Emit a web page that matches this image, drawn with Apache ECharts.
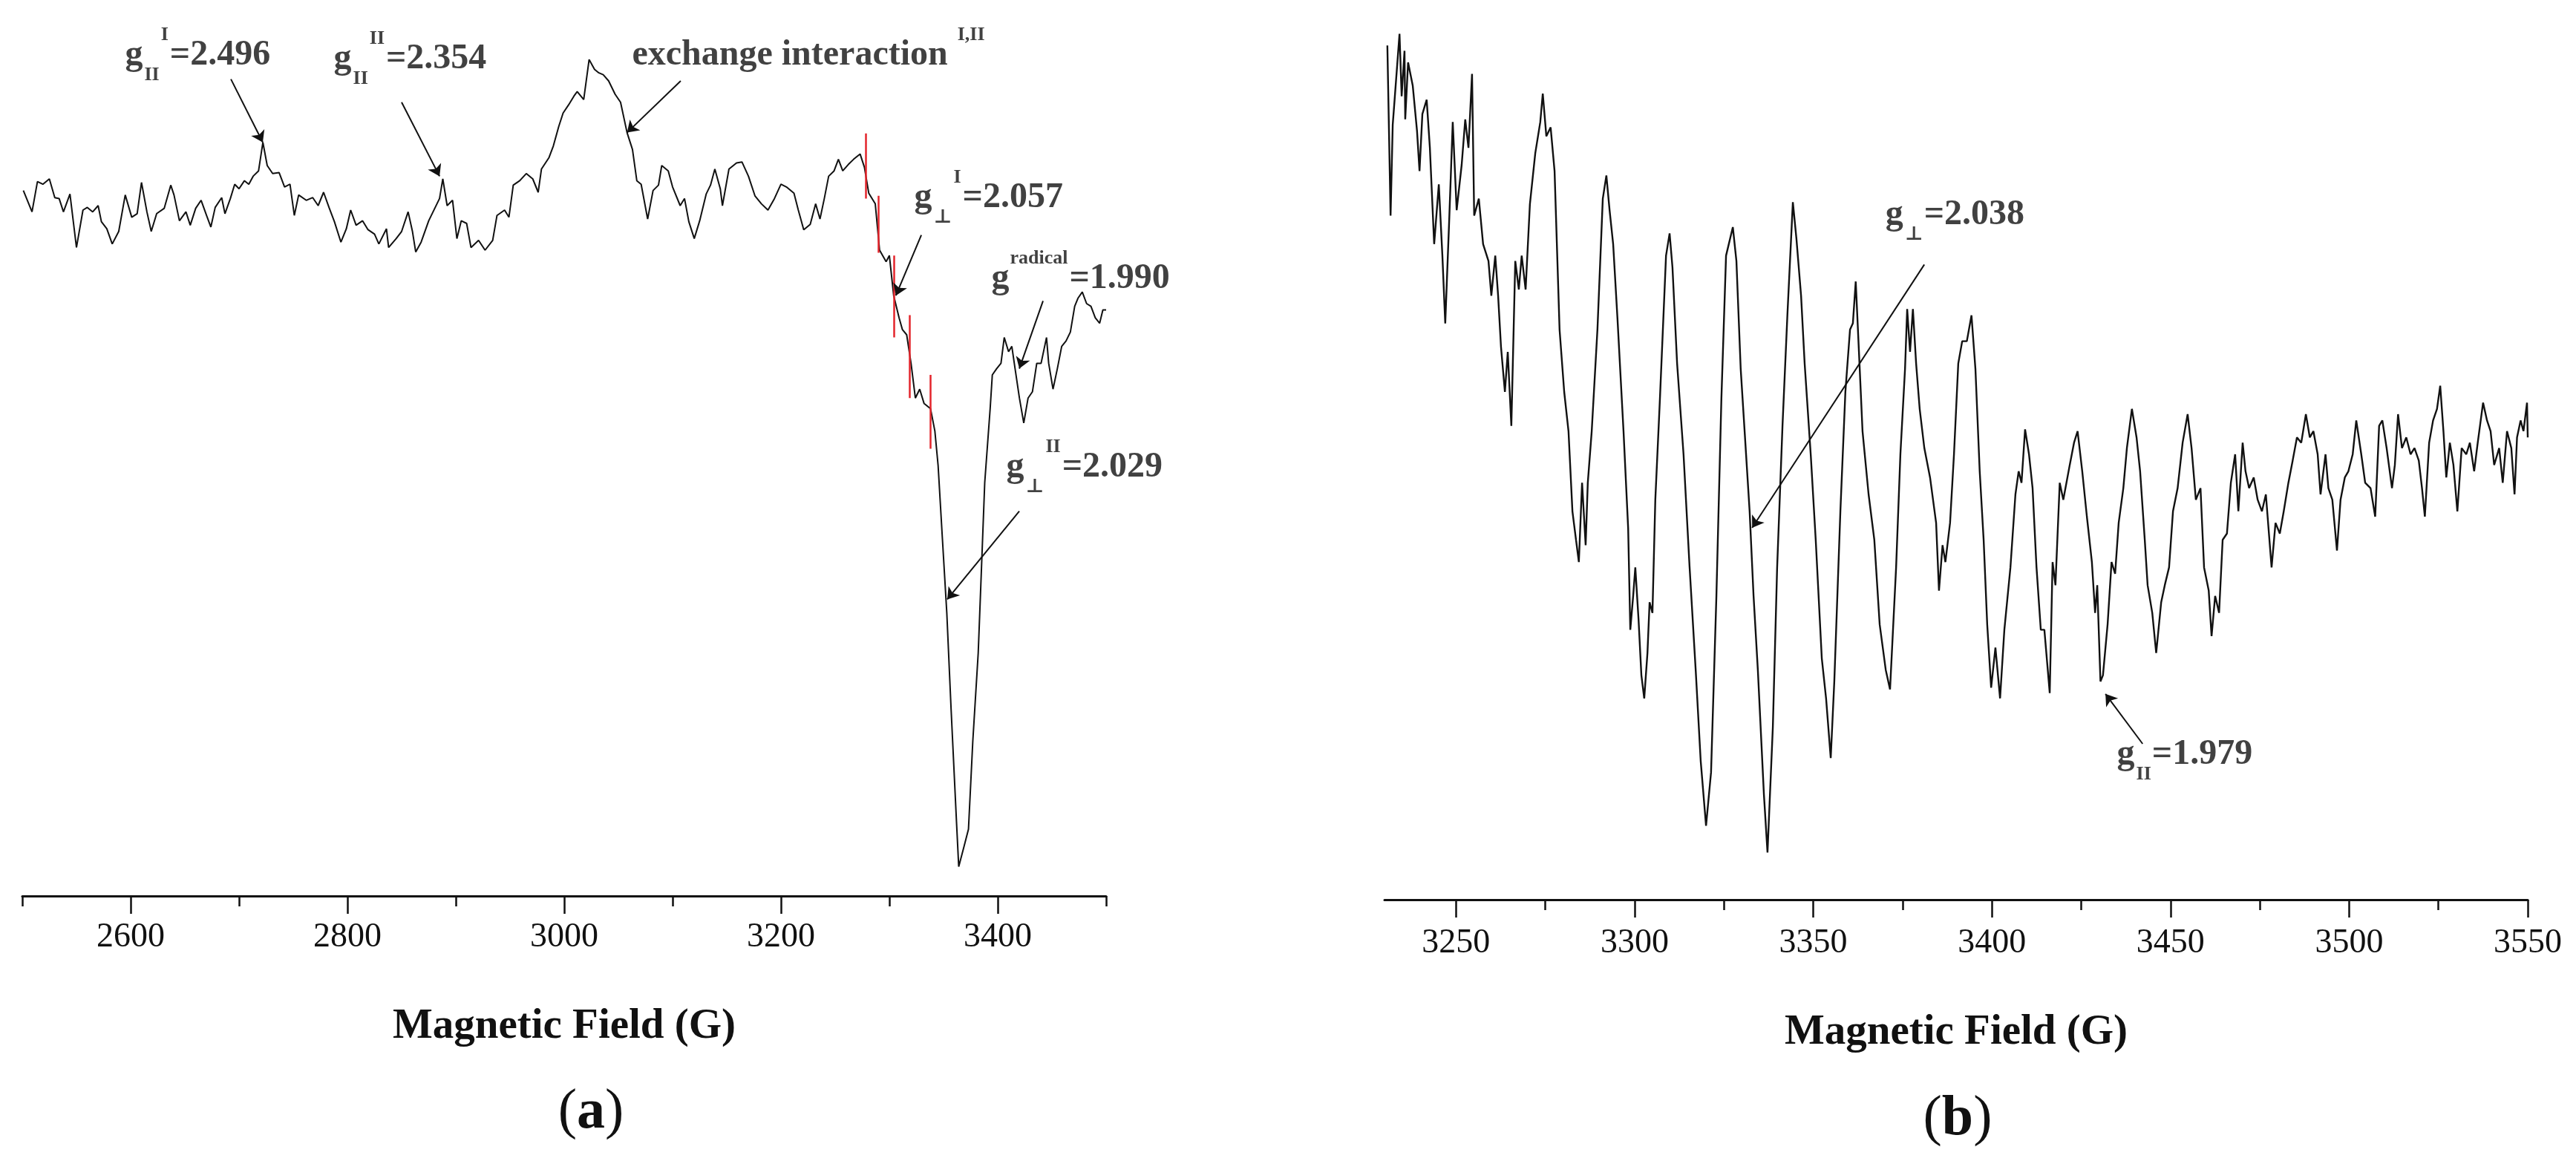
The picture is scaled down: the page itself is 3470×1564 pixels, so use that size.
<!DOCTYPE html>
<html>
<head>
<meta charset="utf-8">
<style>
  html, body { margin: 0; padding: 0; background: #fff; }
  #chart { width: 3470px; height: 1564px; }
</style>
<script src="https://cdn.jsdelivr.net/npm/echarts@6/dist/echarts.min.js"></script>
</head>
<body>
<div id="chart"></div>
<script>
// EPR spectra, intensity in arbitrary units (0..100 over the plot height)
const spectrumA = [
  [2501,79.2],[2509,76.8],[2514,80.2],[2519,79.9],[2525,80.5],[2530,78.4],[2534,78.3],[2538,76.8],[2544,78.8],[2550,72.8],
  [2556,77.0],[2560,77.3],[2565,76.8],[2570,77.5],[2573,75.7],[2578,74.9],[2583,73.2],[2589,74.6],[2595,78.7],[2601,76.2],
  [2606,76.6],[2610,80.1],[2615,76.8],[2619,74.6],[2624,76.6],[2631,77.2],[2637,79.8],[2640,78.7],[2645,75.8],[2651,76.8],
  [2655,75.3],[2660,77.2],[2665,78.1],[2670,76.4],[2674,75.1],[2678,77.3],[2684,78.4],[2687,76.6],[2692,78.3],[2696,79.9],
  [2700,79.4],[2705,80.3],[2709,79.9],[2713,80.8],[2718,81.4],[2722,84.6],[2726,82.0],[2731,81.1],[2737,81.2],[2742,79.6],
  [2747,79.9],[2751,76.4],[2755,78.7],[2762,78.1],[2768,78.4],[2773,77.5],[2778,79.0],[2783,77.3],[2788,75.7],[2794,73.4],
  [2799,74.9],[2803,77.0],[2808,75.3],[2814,75.8],[2819,74.8],[2825,74.3],[2829,73.2],[2836,74.9],[2838,72.8],[2845,73.8],
  [2850,74.6],[2856,76.8],[2860,74.6],[2863,72.3],[2868,73.4],[2875,75.8],[2881,77.3],[2885,78.3],[2888,80.5],[2892,77.5],
  [2897,78.1],[2901,73.8],[2905,75.8],[2910,75.5],[2914,72.8],[2921,73.6],[2927,72.5],[2934,73.6],[2938,76.4],[2945,77.0],
  [2949,76.2],[2953,79.8],[2959,80.3],[2965,81.1],[2971,80.5],[2976,79.0],[2979,81.6],[2986,82.9],[2990,84.2],[2995,86.4],
  [2999,87.9],[3004,88.8],[3009,89.8],[3012,90.3],[3018,89.4],[3023,93.9],[3028,92.8],[3032,92.4],[3036,92.2],[3041,91.5],
  [3047,90.0],[3052,89.1],[3058,85.7],[3063,83.8],[3067,80.3],[3071,79.9],[3077,76.0],[3082,79.2],[3087,79.8],[3090,82.0],
  [3096,81.4],[3100,79.6],[3107,77.5],[3111,78.3],[3115,75.7],[3120,73.8],[3125,75.8],[3131,78.8],[3135,79.8],[3139,81.6],
  [3144,79.4],[3146,77.5],[3152,81.6],[3159,82.3],[3164,82.4],[3170,80.8],[3176,78.6],[3182,77.7],[3188,77.0],[3194,78.3],
  [3200,79.9],[3205,79.6],[3212,78.9],[3216,77.0],[3221,74.8],[3227,75.4],[3232,77.7],[3236,76.0],[3240,78.3],[3244,80.8],
  [3249,81.4],[3253,82.7],[3257,81.4],[3262,82.1],[3267,82.7],[3273,83.3],[3277,81.8],[3281,78.9],[3287,77.7],[3291,72.5],
  [3297,71.2],[3300,71.9],[3304,67.4],[3309,64.9],[3312,63.6],[3316,63.0],[3320,59.8],[3324,55.9],[3328,56.9],[3332,55.3],
  [3338,54.7],[3342,52.2],[3345,48.3],[3349,40.0],[3353,31.8],[3357,20.9],[3362,8.2],[3364,3.3],[3369,5.6],[3373,7.5],
  [3377,17.4],[3382,27.3],[3385,36.8],[3388,46.4],[3393,54.7],[3395,58.5],[3399,59.2],[3403,59.8],[3406,62.7],[3410,61.1],
  [3413,61.7],[3416,59.2],[3420,55.9],[3424,53.1],[3428,55.9],[3432,56.6],[3436,59.8],[3440,59.8],[3445,62.7],[3447,59.8],
  [3451,56.9],[3455,59.2],[3459,61.7],[3463,62.3],[3467,63.3],[3471,66.2],[3474,67.1],[3478,67.8],[3482,66.5],[3486,66.2],
  [3490,64.9],[3494,64.3],[3497,65.8],[3500,65.8]
];

const spectrumB = [
  [3230.8,95.9],[3231.7,76.8],[3232.3,87.0],[3232.9,90.2],[3234.2,97.2],[3234.8,90.2],[3235.6,95.3],[3235.8,87.6],[3236.6,94.0],[3237.9,91.4],
  [3239.1,86.3],[3239.8,81.8],[3240.6,88.2],[3241.8,89.8],[3242.7,84.4],[3243.9,73.6],[3245.2,80.3],[3246.2,72.3],[3247.0,64.7],[3248.1,76.2],
  [3249.1,87.3],[3250.2,77.4],[3251.6,82.5],[3252.6,87.6],[3253.5,84.4],[3254.5,92.7],[3255.1,76.8],[3256.4,78.7],[3257.6,73.6],[3259.1,71.7],
  [3259.9,67.8],[3261.0,72.3],[3261.8,67.8],[3262.6,62.1],[3263.7,57.0],[3264.5,61.5],[3265.5,53.2],[3266.6,71.7],[3267.6,68.5],[3268.4,72.3],
  [3269.5,68.5],[3270.7,78.1],[3272.2,83.8],[3273.6,87.3],[3274.3,90.5],[3275.3,85.7],[3276.5,86.7],[3277.6,81.8],[3279.0,64.0],[3280.3,57.0],
  [3281.5,52.6],[3282.6,43.6],[3283.6,40.4],[3284.4,37.9],[3285.3,46.8],[3286.3,39.8],[3286.9,46.8],[3288.0,52.6],[3289.6,64.0],[3291.1,78.7],
  [3292.1,81.3],[3293.0,77.4],[3294.0,73.6],[3295.2,65.3],[3296.9,52.6],[3298.2,41.7],[3298.8,30.3],[3299.6,34.1],[3300.2,37.3],[3301.1,31.5],
  [3301.9,25.2],[3302.7,22.6],[3303.6,27.7],[3304.2,33.4],[3305.0,32.2],[3305.8,44.9],[3307.1,56.3],[3308.8,72.3],[3309.8,74.8],[3310.6,71.0],
  [3311.9,60.2],[3313.7,50.0],[3315.4,37.3],[3317.1,25.8],[3318.5,15.6],[3320.0,8.3],[3321.4,14.3],[3322.9,34.1],[3324.3,56.3],[3325.6,72.3],
  [3327.5,75.5],[3328.5,71.7],[3329.7,59.6],[3331.0,51.3],[3332.2,43.6],[3333.3,34.1],[3334.5,25.8],[3336.2,11.8],[3337.2,5.3],[3338.7,19.4],
  [3339.9,37.3],[3341.4,53.2],[3342.8,65.9],[3344.3,78.3],[3345.3,74.2],[3346.6,67.8],[3347.6,60.2],[3349.3,50.0],[3350.7,40.4],[3352.4,27.1],
  [3353.6,22.6],[3354.9,15.9],[3355.9,24.5],[3357.6,43.6],[3359.0,57.0],[3360.3,64.0],[3361.1,64.7],[3361.9,69.4],[3362.8,61.5],[3363.8,52.6],
  [3365.5,45.5],[3367.1,40.4],[3368.6,30.9],[3370.3,25.8],[3371.5,23.6],[3373.2,37.3],[3374.4,50.0],[3375.7,59.6],[3376.3,66.3],[3377.1,61.5],
  [3377.9,66.3],[3378.8,60.2],[3379.8,55.1],[3381.1,50.7],[3382.7,47.4],[3384.4,42.3],[3385.2,34.7],[3386.2,39.8],[3387.0,37.9],[3388.3,42.3],
  [3389.4,50.0],[3390.6,60.2],[3391.7,62.7],[3393.0,62.7],[3394.3,65.6],[3395.4,59.6],[3396.6,48.1],[3397.7,40.4],[3398.7,30.9],[3399.8,23.8],
  [3401.0,28.3],[3402.3,22.6],[3403.5,30.3],[3405.2,37.3],[3406.6,45.5],[3407.5,48.1],[3408.3,46.8],[3409.3,52.8],[3410.4,50.0],[3411.4,46.2],
  [3412.5,37.3],[3413.7,30.3],[3414.7,30.3],[3416.2,23.2],[3417.0,37.9],[3417.8,35.3],[3419.0,46.8],[3420.0,44.9],[3421.8,48.8],[3423.0,51.3],
  [3424.0,52.6],[3425.3,48.1],[3426.6,43.0],[3428.0,37.9],[3428.9,32.2],[3429.5,35.3],[3430.4,24.5],[3431.1,25.2],[3432.4,30.9],[3433.5,37.9],
  [3434.5,36.6],[3435.5,42.3],[3436.8,46.2],[3437.8,50.7],[3439.2,55.1],[3440.5,51.9],[3441.5,48.1],[3442.8,40.4],[3443.6,35.3],[3444.9,32.2],
  [3446.0,27.7],[3447.4,33.4],[3448.4,35.3],[3449.6,37.3],[3450.7,43.6],[3452.0,46.2],[3453.4,51.3],[3454.8,54.5],[3455.9,50.7],[3457.1,44.9],
  [3458.4,46.2],[3459.4,37.3],[3460.7,34.7],[3461.5,29.6],[3462.5,34.1],[3463.6,32.2],[3464.6,40.4],[3465.8,41.1],[3466.9,46.8],[3468.1,50.0],
  [3469.0,43.6],[3470.2,51.3],[3471.0,48.1],[3472.0,46.2],[3473.3,47.4],[3474.4,44.9],[3475.6,43.6],[3476.7,45.5],[3478.3,37.3],[3479.4,42.3],
  [3480.6,41.1],[3481.7,43.6],[3483.0,46.8],[3484.2,49.3],[3485.4,51.9],[3486.6,51.3],[3487.9,54.5],[3489.0,51.9],[3490.0,52.6],[3491.2,50.0],
  [3492.0,45.5],[3493.4,50.0],[3494.2,46.2],[3495.3,44.9],[3496.6,39.2],[3497.6,44.9],[3498.8,47.4],[3499.8,48.1],[3501.0,50.0],[3502.0,53.8],
  [3503.4,50.0],[3504.5,46.8],[3506.0,46.2],[3507.3,43.0],[3508.4,53.2],[3509.3,53.8],[3510.5,50.7],[3512.0,46.2],[3512.8,48.8],[3513.7,54.5],
  [3514.8,50.7],[3516.0,51.9],[3517.2,50.0],[3518.3,50.7],[3519.5,49.3],[3520.4,46.2],[3521.2,43.0],[3522.4,51.3],[3523.5,53.8],[3524.6,55.1],
  [3525.5,57.7],[3526.4,52.6],[3527.2,47.4],[3528.2,51.3],[3529.2,48.8],[3530.3,43.6],[3531.5,50.7],[3532.8,50.0],[3533.8,51.3],[3535.0,48.1],
  [3536.0,51.3],[3537.5,55.8],[3538.6,53.8],[3539.6,52.6],[3540.6,48.8],[3542.0,50.7],[3543.0,46.8],[3544.2,52.6],[3545.4,50.7],[3546.3,45.5],
  [3547.0,51.9],[3548.0,53.8],[3548.8,52.6],[3549.8,55.8],[3550.0,51.9]
];

const majorTicksA = [2600, 2800, 3000, 3200, 3400];
const minorTicksA = [2500, 2700, 2900, 3100, 3300, 3500];
const majorTicksB = [3250, 3300, 3350, 3400, 3450, 3500, 3550];
const minorTicksB = [3275, 3325, 3375, 3425, 3475, 3525];

// red split marks on the shoulder of (a): [field, top, bottom]
const splitMarksA = [
  [3278, 85.6, 78.3],
  [3290, 78.6, 72.2],
  [3304, 71.9, 62.7],
  [3318.5, 65.2, 55.9],
  [3338, 58.5, 50.2]
];

// annotations: label text, label anchor [field, signal], arrow tail, arrow head
const notesA = [
  { text: '{g|g}{sub|II}{sup|I}{t|=2.496}', at: [2595.2, 94.35], from: [2692.5, 91.7], to: [2721.9, 84.6] },
  { text: '{g|g}{sub|II}{sup|II}{t|=2.354}', at: [2787.7, 93.9], from: [2850, 89.1], to: [2885, 80.8] },
  { text: '{t|exchange interaction }{sup|I,II}', at: [3063, 94.35], from: [3107.5, 91.5], to: [3058, 85.7] },
  { text: '{g|g}{sub|⊥}{sup|I}{t|=2.057}', at: [3323.3, 78.35], from: [3329.5, 74.2], to: [3306, 67.4] },
  { text: '{g|g}{sup|radical}{t|=1.990}', at: [3394.5, 69.27], from: [3441.8, 66.8], to: [3419.9, 59.2] },
  { text: '{g|g}{sub|⊥}{sup|II}{t|=2.029}', at: [3408.2, 48.1], from: [3419.9, 43.2], to: [3353.4, 33.3] }
];
const notesB = [
  { text: '{g|g}{sub|⊥}{t|=2.038}', at: [3370.3, 76.85], from: [3381.1, 71.3], to: [3332.9, 41.75] },
  { text: '{g|g}{sub|II}{t|=1.979}', at: [3435.1, 16.27], from: [3442.2, 17.5], to: [3431.8, 23.1] }
];

const SERIF = "'Liberation Serif', 'DejaVu Serif', serif";
const INK = '#111';

const noteRich = {
  g: { fontFamily: SERIF, fontWeight: 'bold', fontSize: 48, lineHeight: 80, color: INK },
  t: { fontFamily: SERIF, fontWeight: 'bold', fontSize: 48, lineHeight: 80, color: INK },
  sub: { fontFamily: SERIF, fontWeight: 'bold', fontSize: 26, lineHeight: 26, verticalAlign: 'bottom', color: INK, padding: [0, 1, 0, 2] },
  sup: { fontFamily: SERIF, fontWeight: 'bold', fontSize: 26, lineHeight: 26, verticalAlign: 'top', color: INK, padding: [0, 2, 0, 1] }
};

function fieldAxes(gridIndex, min, max, major, minor, labelMargin, nameGap) {
  return [
    {
      type: 'value', gridIndex, min, max, position: 'bottom',
      axisLine: { show: true, onZero: false, lineStyle: { color: INK, width: 3 } },
      axisTick: { show: true, customValues: major, length: 24, lineStyle: { color: INK, width: 2.5 } },
      axisLabel: {
        show: true, customValues: major, margin: labelMargin,
        formatter: v => '{n|' + v + '}',
        rich: { n: { fontFamily: SERIF, fontSize: 46, color: INK } },
        fontFamily: SERIF, fontSize: 46, color: INK
      },
      splitLine: { show: false },
      name: 'Magnetic Field (G)', nameLocation: 'middle', nameGap,
      nameTextStyle: { fontFamily: SERIF, fontWeight: 'bold', fontSize: 57, color: INK }
    },
    {
      type: 'value', gridIndex, min, max, position: 'bottom', offset: 0,
      axisLine: { show: false, onZero: false },
      axisTick: { show: true, customValues: minor, length: 14, lineStyle: { color: INK, width: 2.5 } },
      axisLabel: { show: false },
      splitLine: { show: false }
    }
  ];
}

function noteSeries(notes, axisIndex) {
  return [
    {
      type: 'lines', coordinateSystem: 'cartesian2d',
      xAxisIndex: axisIndex, yAxisIndex: axisIndex / 2,
      symbol: ['none', 'arrow'], symbolSize: 15,
      lineStyle: { color: INK, width: 2, opacity: 1, curveness: 0 },
      data: notes.map(n => ({ coords: [n.from, n.to] })),
      silent: true, z: 5
    },
    {
      type: 'scatter', xAxisIndex: axisIndex, yAxisIndex: axisIndex / 2,
      symbolSize: 1, itemStyle: { color: 'rgba(0,0,0,0)' },
      data: notes.map(n => ({
        value: n.at,
        label: { show: true, formatter: n.text, position: [0, 0], align: 'left', verticalAlign: 'middle', rich: noteRich }
      })),
      silent: true, z: 6
    }
  ];
}

const chart = echarts.init(document.getElementById('chart'), null, { renderer: 'canvas' });

chart.setOption({
  animation: false,
  backgroundColor: '#fff',
  grid: [
    { left: 30, top: 7, width: 1460, height: 1200, outerBoundsMode: 'none' },
    { left: 1865, top: 12, width: 1540, height: 1200, outerBoundsMode: 'none' }
  ],
  xAxis: [
    ...fieldAxes(0, 2500, 3500, majorTicksA, minorTicksA, 33, 148),
    ...fieldAxes(1, 3230, 3550, majorTicksB, minorTicksB, 36, 151)
  ],
  yAxis: [
    { type: 'value', gridIndex: 0, min: 0, max: 100, show: false },
    { type: 'value', gridIndex: 1, min: 0, max: 100, show: false }
  ],
  graphic: [
    { type: 'text', x: 796, y: 1499, style: { text: '{p|(}{b|a}{p|)}', align: 'center', verticalAlign: 'middle',
      rich: { p: { fontFamily: SERIF, fontSize: 76, fill: INK }, b: { fontFamily: SERIF, fontWeight: 'bold', fontSize: 76, fill: INK } } } },
    { type: 'text', x: 2637, y: 1508, style: { text: '{p|(}{b|b}{p|)}', align: 'center', verticalAlign: 'middle',
      rich: { p: { fontFamily: SERIF, fontSize: 76, fill: INK }, b: { fontFamily: SERIF, fontWeight: 'bold', fontSize: 76, fill: INK } } } }
  ],
  series: [
    {
      type: 'line', xAxisIndex: 0, yAxisIndex: 0, data: spectrumA,
      symbol: 'none', smooth: false, lineStyle: { color: INK, width: 2 }, z: 3
    },
    {
      type: 'lines', coordinateSystem: 'cartesian2d', xAxisIndex: 0, yAxisIndex: 0,
      symbol: 'none', lineStyle: { color: '#e3242b', width: 2.5, opacity: 1 },
      data: splitMarksA.map(m => ({ coords: [[m[0], m[1]], [m[0], m[2]]] })),
      silent: true, z: 4
    },
    ...noteSeries(notesA, 0),
    {
      type: 'line', xAxisIndex: 2, yAxisIndex: 1, data: spectrumB,
      symbol: 'none', smooth: false, lineStyle: { color: INK, width: 2.4 }, z: 3
    },
    ...noteSeries(notesB, 2)
  ]
});
</script>
</body>
</html>
